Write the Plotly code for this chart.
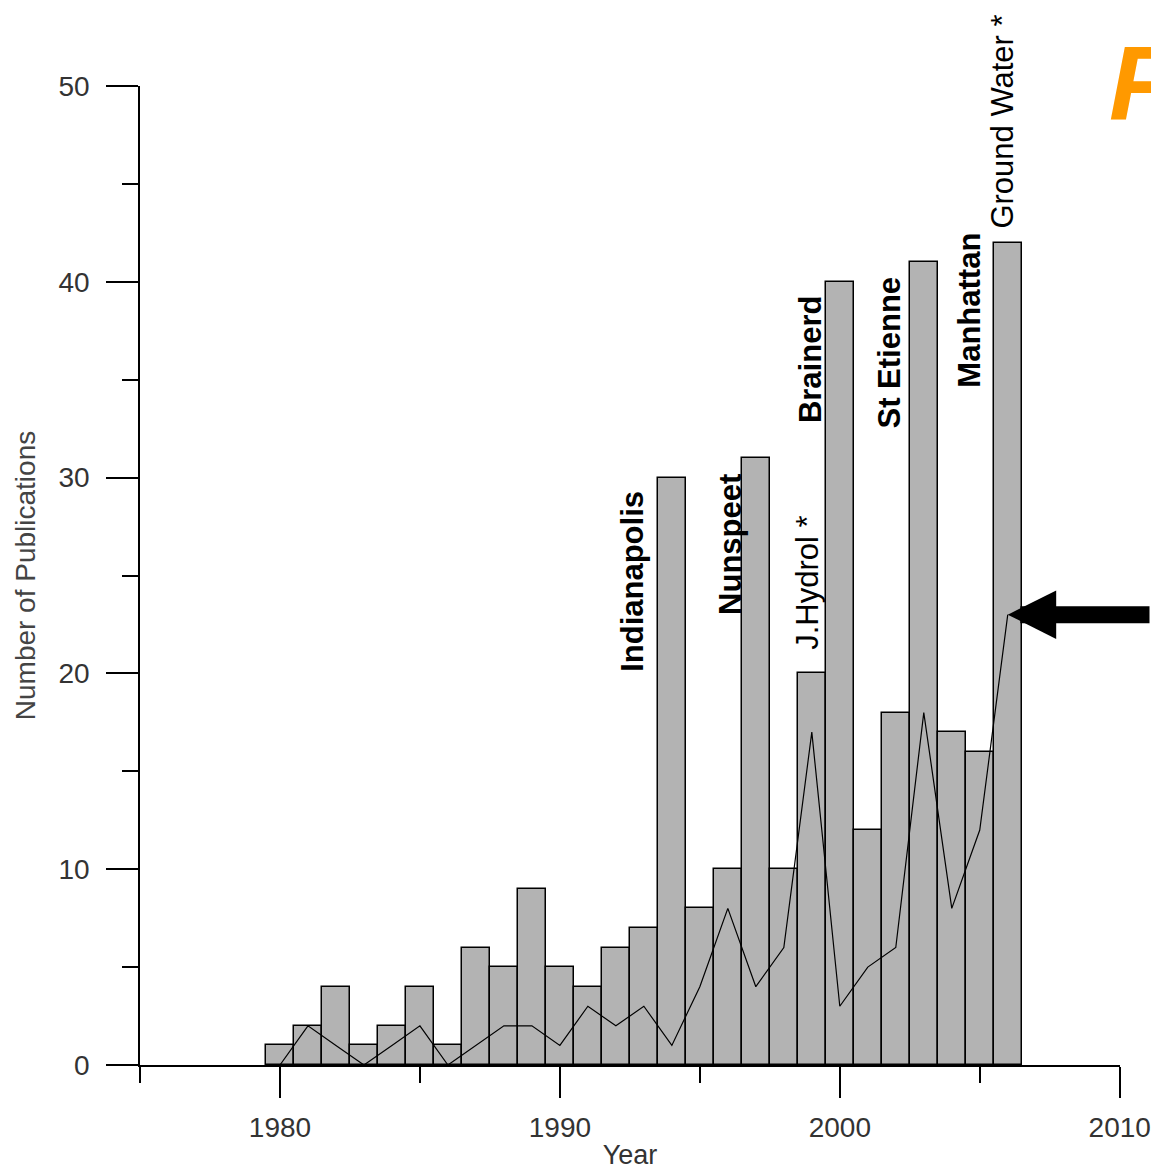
import plotly.graph_objects as go

years = list(range(1980, 2007))
publications = [1, 2, 4, 1, 2, 4, 1, 6, 5, 9, 5, 4, 6, 7, 30, 8, 10, 31, 10, 20, 40, 12, 18, 41, 17, 16, 42]
line_values = [0, 2, 1, 0, 1, 2, 0, 1, 2, 2, 1, 3, 2, 3, 1, 4, 8, 4, 6, 17, 3, 5, 6, 18, 8, 12, 23]

label_texts = ["Indianapolis", "Nunspeet", "J.Hydrol *", "Brainerd", "St Etienne", "Manhattan", "Ground Water *"]
label_bold = [True, True, False, True, True, True, False]
label_x = [1992.61, 1996.07, 1998.86, 1998.93, 2001.79, 2004.64, 2005.82]
label_y = [20.0, 22.9, 21.1, 32.7, 32.4, 34.5, 42.6]

x_ticks = [1980, 1990, 2000, 2010]
y_ticks = [0, 10, 20, 30, 40, 50]

fig = go.Figure()
fig.add_trace(go.Bar(
    x=years, y=publications, width=1,
    marker=dict(color="#b3b3b3", line=dict(color="black", width=1.5)),
    showlegend=False, hoverinfo="x+y",
))
fig.add_trace(go.Scatter(
    x=years, y=line_values, mode="lines",
    line=dict(color="black", width=1.2),
    showlegend=False,
))

regular = "Liberation Sans, Arial, sans-serif"

annotations = []
for t, b, x, y in zip(label_texts, label_bold, label_x, label_y):
    annotations.append(dict(
        x=x, y=y, xref="x", yref="y",
        text=f"<b>{t}</b>" if b else t,
        textangle=-90, showarrow=False,
        xanchor="center", yanchor="bottom",
        font=dict(family=regular, size=31, color="black"),
    ))

# arrow pointing at the last point of the line
annotations.append(dict(
    x=years[-1], y=line_values[-1], xref="x", yref="y",
    text="", showarrow=True, ax=175, ay=0,
    arrowhead=2, arrowwidth=17, arrowsize=0.57, arrowcolor="black", standoff=0,
))

# orange partially visible letter at top right
annotations.append(dict(
    x=0.987, y=1.003, xref="paper", yref="paper",
    text="<b><i>F</i></b>", showarrow=False,
    xanchor="left", yanchor="middle",
    font=dict(family=regular, size=105, color="#ff9900"),
))

fig.update_layout(
    width=1151, height=1170,
    margin=dict(l=140, r=31, t=86, b=105),
    paper_bgcolor="white", plot_bgcolor="white",
    bargap=0,
    annotations=annotations,
    xaxis=dict(
        range=[1975, 2010.01], automargin=False,
        tickmode="linear", tick0=x_ticks[0], dtick=x_ticks[1] - x_ticks[0],
        ticks="outside", ticklen=31, tickwidth=1.5, tickcolor="black",
        minor=dict(dtick=5, tick0=1975, ticks="outside", ticklen=16, tickwidth=1.5, tickcolor="black", showgrid=False),
        showline=True, linecolor="black", linewidth=1.5,
        showgrid=False, zeroline=False,
        tickfont=dict(family=regular, size=28, color="#333333"),
        ticklabelstandoff=6,
        title=dict(text="Year", font=dict(family=regular, size=27, color="#333333"), standoff=10),
    ),
    yaxis=dict(
        range=[0, 50], automargin=False,
        tickmode="array", tickvals=y_ticks, ticktext=[str(v) for v in y_ticks],
        ticks="outside", ticklen=32, tickwidth=1.5, tickcolor="black",
        minor=dict(dtick=5, tick0=0, ticks="outside", ticklen=16, tickwidth=1.5, tickcolor="black", showgrid=False),
        showline=True, linecolor="black", linewidth=1.5,
        showgrid=False, zeroline=False,
        tickfont=dict(family=regular, size=28, color="#333333"),
        ticklabelstandoff=11,
        title=dict(text="Number of Publications", font=dict(family=regular, size=28, color="#444444"), standoff=15),
    ),
)

fig.write_html(
    "out.html",
    config={"displayModeBar": False},
    post_script="document.body.style.margin='0';document.body.style.overflow='hidden';",
)
